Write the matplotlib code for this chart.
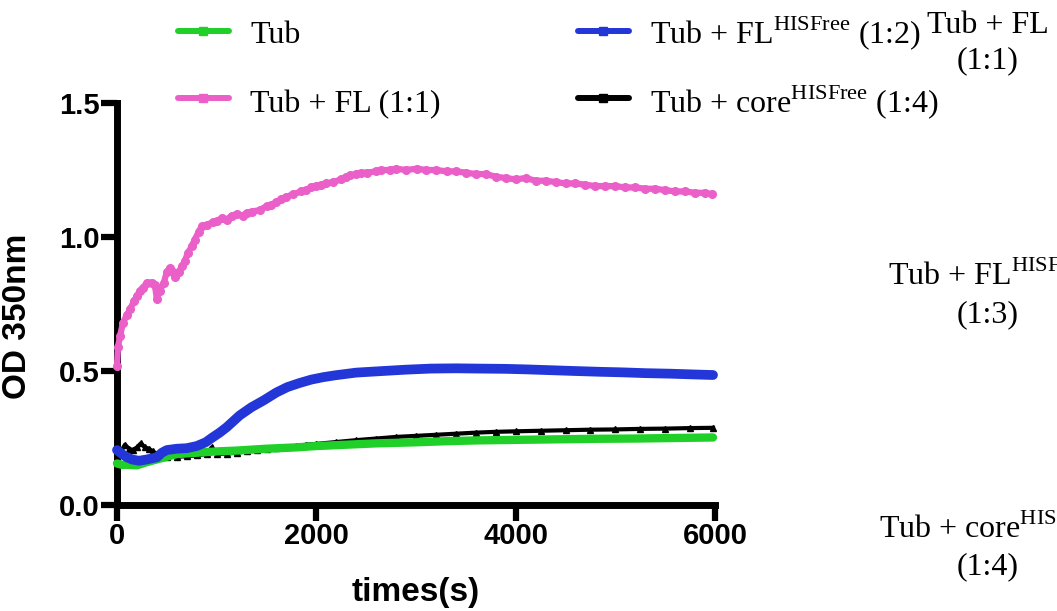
# Turbidity (OD 350nm) time course for tubulin alone and with FL / core variants

import numpy as np
import matplotlib.pyplot as plt
from matplotlib.lines import Line2D

plt.rcParams['mathtext.fontset'] = 'custom'
plt.rcParams['mathtext.rm'] = 'Liberation Serif'

# Data (time in s, OD 350nm)
tub_t = [0, 50, 100, 200, 300, 400, 500, 600, 800, 1000, 1200, 1500, 1800, 2000, 2300,
         2600, 3000, 3300, 3600, 4000, 4400, 4800, 5200, 5600, 5980]
tub_od = [0.155, 0.15, 0.15, 0.148, 0.16, 0.17, 0.18, 0.19, 0.195, 0.20, 0.203, 0.21, 0.215,
          0.22, 0.225, 0.23, 0.234, 0.238, 0.241, 0.243, 0.245, 0.247, 0.248, 0.25, 0.252]

fl_t = [0, 10, 30, 60, 100, 130, 170, 200, 230, 260, 300, 350, 380, 400, 430, 470, 500, 530,
        560, 580, 620, 650, 680, 710, 750, 780, 820, 850, 900, 960, 1000, 1050, 1100, 1150,
        1200, 1260, 1300, 1350, 1430, 1500, 1550, 1600, 1650, 1700, 1770, 1850, 1900, 1950,
        2000, 2050, 2100, 2170, 2250, 2300, 2340, 2400, 2450, 2510, 2600, 2650, 2740, 2800,
        2900, 3010, 3100, 3200, 3310, 3400, 3500, 3600, 3700, 3800, 3900, 4000, 4100, 4200,
        4300, 4400, 4500, 4600, 4700, 4800, 4900, 5000, 5100, 5200, 5300, 5400, 5500, 5600,
        5700, 5800, 5900, 5970]
fl_od = [0.52, 0.59, 0.63, 0.68, 0.71, 0.73, 0.76, 0.78, 0.80, 0.81, 0.83, 0.83, 0.82, 0.77,
         0.80, 0.83, 0.87, 0.885, 0.87, 0.85, 0.87, 0.89, 0.91, 0.94, 0.965, 0.99, 1.02, 1.04,
         1.045, 1.055, 1.06, 1.07, 1.065, 1.08, 1.085, 1.08, 1.09, 1.095, 1.10, 1.115, 1.12,
         1.13, 1.14, 1.15, 1.16, 1.17, 1.175, 1.185, 1.19, 1.195, 1.20, 1.205, 1.215, 1.225,
         1.23, 1.235, 1.24, 1.24, 1.245, 1.25, 1.25, 1.255, 1.25, 1.255, 1.25, 1.25, 1.245,
         1.245, 1.24, 1.235, 1.235, 1.225, 1.22, 1.215, 1.22, 1.21, 1.21, 1.205, 1.20, 1.20,
         1.195, 1.19, 1.19, 1.19, 1.185, 1.185, 1.18, 1.18, 1.175, 1.17, 1.17, 1.165, 1.165, 1.16]

flhf_t = [0, 50, 100, 150, 220, 300, 400, 450, 500, 600, 700, 800, 890, 950, 1030, 1100, 1230,
          1350, 1470, 1600, 1710, 1830, 1950, 2070, 2190, 2400, 2670, 2900, 3150, 3400, 3630,
          3900, 4110, 4350, 4590, 4850, 5070, 5300, 5550, 5800, 5980]
flhf_od = [0.205, 0.19, 0.178, 0.17, 0.165, 0.17, 0.178, 0.195, 0.205, 0.21, 0.212, 0.22,
           0.234, 0.25, 0.27, 0.29, 0.334, 0.365, 0.39, 0.42, 0.44, 0.455, 0.468, 0.477, 0.484,
           0.494, 0.50, 0.505, 0.509, 0.51, 0.509, 0.508, 0.506, 0.503, 0.50, 0.497, 0.495,
           0.492, 0.49, 0.487, 0.485]

core_t = [0, 40, 80, 120, 160, 200, 240, 280, 320, 360, 400, 450, 500, 600, 700, 800, 900, 950,
          1000, 1100, 1200, 1300, 1400, 1500, 1600, 1700, 1800, 1900, 2000, 2200, 2400, 2600,
          2800, 3000, 3200, 3400, 3600, 3800, 4000, 4250, 4500, 4750, 5000, 5250, 5500, 5750,
          5980]
core_od = [0.20, 0.20, 0.225, 0.21, 0.205, 0.215, 0.23, 0.215, 0.21, 0.20, 0.19, 0.185, 0.18,
           0.18, 0.182, 0.185, 0.19, 0.215, 0.19, 0.192, 0.195, 0.20, 0.205, 0.21, 0.213, 0.218,
           0.22, 0.225, 0.228, 0.235, 0.242, 0.248, 0.254, 0.258, 0.262, 0.266, 0.27, 0.273,
           0.275, 0.277, 0.279, 0.281, 0.282, 0.284, 0.285, 0.287, 0.288]

green = '#20d028'
pink = '#ea60c8'
blue = '#2336d8'
black = '#000000'

W, H = 1057, 611
fig = plt.figure(figsize=(W / 100, H / 100), dpi=100)
ax = fig.add_axes([117 / W, 1 - 505 / H, 598 / W, 402 / H])

# Curves
ax.plot(core_t, core_od, color=black, lw=3, marker='^', ms=5, clip_on=False, zorder=2)
ax.plot(tub_t, tub_od, color=green, lw=6, solid_capstyle='round', clip_on=False, zorder=3)
ax.plot(flhf_t, flhf_od, color=blue, lw=7, solid_capstyle='round', clip_on=False, zorder=4)
ax.plot(fl_t, fl_od, color=pink, lw=4.5, marker='o', ms=5.5, clip_on=False, zorder=5)

# Axes style
ax.set_xlim(0, 6000)
ax.set_ylim(0, 1.5)
ax.set_xticks([0, 2000, 4000, 6000])
ax.set_yticks([0.0, 0.5, 1.0, 1.5])
ax.set_yticklabels(['0.0', '0.5', '1.0', '1.5'])
for s in ['top', 'right']:
    ax.spines[s].set_visible(False)
for s in ['left', 'bottom']:
    ax.spines[s].set_linewidth(5)
ax.tick_params(axis='both', length=11.5, width=4.5, pad=1, labelsize=21)
for lab in ax.get_xticklabels() + ax.get_yticklabels():
    lab.set_fontfamily('Liberation Sans')
    lab.set_fontweight('bold')

ax.set_xlabel('times(s)', fontsize=24, fontweight='bold', family='Liberation Sans')
ax.set_ylabel('OD 350nm', fontsize=24, fontweight='bold', family='Liberation Sans')
ax.xaxis.set_label_coords(0.5, -0.18)
ax.yaxis.set_label_coords(-0.14, 0.47)

# Legend (drawn by hand so both columns line up)
serif = dict(family='Liberation Serif', fontsize=23)
entries = [('Tub', green, 178, 31, 43),
           ('Tub + FL (1:1)', pink, 178, 98, 112),
           (r'Tub + FL$^{\mathrm{HISFree}}$ (1:2)', blue, 578, 31, 43),
           (r'Tub + core$^{\mathrm{HISFree}}$ (1:4)', black, 578, 98, 112)]
for label, col, x0, yh, yb in entries:
    fig.add_artist(Line2D([x0 / W, (x0 + 51) / W], [1 - yh / H, 1 - yh / H],
                          transform=fig.transFigure, color=col, lw=4.3,
                          solid_capstyle='round'))
    fig.add_artist(Line2D([(x0 + 25) / W], [1 - yh / H], transform=fig.transFigure,
                          color=col, marker='s', ms=5.5, lw=0))
    fig.text((x0 + 72) / W, 1 - yb / H, label, va='baseline', ha='left', **serif)

# Right-hand series labels (partly cut off by the figure edge, as in the source)
side_labels = [('Tub + FL', '(1:1)', 33, 68),
               (r'Tub + FL$^{\mathrm{HISFree}}$', '(1:3)', 285, 322),
               (r'Tub + core$^{\mathrm{HISFree}}$', '(1:4)', 538, 574)]
for l1, l2, y1, y2 in side_labels:
    fig.text(988 / W, 1 - y1 / H, l1, ha='center', va='baseline', **serif)
    fig.text(988 / W, 1 - y2 / H, l2, ha='center', va='baseline', **serif)

fig.savefig('out.png', dpi=100)
